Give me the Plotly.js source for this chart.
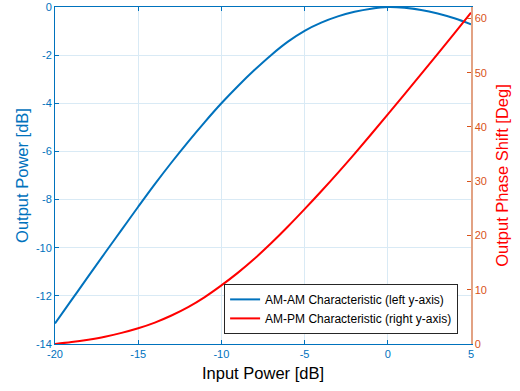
<!DOCTYPE html>
<html>
<head>
<meta charset="utf-8">
<script src="https://cdn.plot.ly/plotly-3.0.1.min.js"></script>
<style>html,body{margin:0;padding:0;background:#fff;}#chart{width:520px;height:391px;}</style>
</head>
<body>
<div id="chart"></div>
<script>
const inputPower = [-20,-19,-18,-17,-16,-15,-14,-13,-12,-11,-10,-9,-8,-7,-6,-5,-4,-3,-2,-1,0,1,2,3,4,5];
const amamOutput = [-13.15,-12.17,-11.19,-10.22,-9.26,-8.30,-7.36,-6.46,-5.60,-4.78,-4.00,-3.28,-2.61,-1.99,-1.44,-0.99,-0.65,-0.39,-0.20,-0.07,0,-0.03,-0.12,-0.27,-0.47,-0.72];
const ampmPhase = [0,0.35,0.8,1.35,2.05,2.9,3.95,5.25,6.8,8.65,10.8,13.15,15.75,18.6,21.65,24.85,28.15,31.55,35.05,38.65,42.3,46.0,49.72,53.47,57.25,61.05];
const leftTicks = [-14,-12,-10,-8,-6,-4,-2,0];
const rightTicks = [0,10,20,30,40,50,60];
const xTicks = [-20,-15,-10,-5,0,5];
const names = ['AM-AM Characteristic (left y-axis)','AM-PM Characteristic (right y-axis)'];

const blue = '#0072BD', orange = '#D95319', grid = 'rgb(217,234,245)';
const font = 'Liberation Sans, Arial, Helvetica, sans-serif';

const traces = [
  {x: inputPower, y: amamOutput, type: 'scatter', mode: 'lines', name: names[0],
   line: {color: blue, width: 2, shape: 'spline', smoothing: 1}, yaxis: 'y'},
  {x: inputPower, y: ampmPhase, type: 'scatter', mode: 'lines', name: names[1],
   line: {color: '#FF0000', width: 2, shape: 'spline', smoothing: 1}, yaxis: 'y2'}
];

const layout = {
  width: 520, height: 391,
  margin: {l: 55, r: 49, t: 7, b: 47},
  paper_bgcolor: '#fff', plot_bgcolor: '#fff',
  font: {family: font, size: 11, color: '#000'},
  showlegend: true,
  legend: {x: 0.969, y: 0.03, xanchor: 'right', yanchor: 'bottom',
           bgcolor: '#fff', bordercolor: '#262626', borderwidth: 1,
           font: {family: font, size: 12, color: '#000'}, tracegroupgap: 0},
  xaxis: {range: [-20, 5], tickvals: xTicks, ticktext: xTicks.map(String),
          ticks: 'inside', ticklen: 4, tickcolor: blue, tickwidth: 1,
          showline: true, linecolor: blue, linewidth: 1, mirror: 'ticks',
          showgrid: true, gridcolor: grid, gridwidth: 1, zeroline: false,
          ticklabeloverflow: 'allow',
          tickfont: {family: font, size: 11, color: blue},
          title: {text: 'Input Power [dB]', font: {family: font, size: 16.5, color: '#000'}, standoff: 8}},
  yaxis: {range: [-14, 0], tickvals: leftTicks, ticktext: leftTicks.map(String),
          ticks: 'inside', ticklen: 4, tickcolor: blue, tickwidth: 1,
          showline: true, linecolor: blue, linewidth: 1,
          showgrid: true, gridcolor: grid, gridwidth: 1, zeroline: false,
          ticklabeloverflow: 'allow',
          tickfont: {family: font, size: 11, color: blue},
          title: {text: 'Output Power [dB]', font: {family: font, size: 16.5, color: blue}, standoff: 3}},
  yaxis2: {range: [0, 62.1], overlaying: 'y', side: 'right', tickvals: rightTicks, ticktext: rightTicks.map(String),
          ticks: 'inside', ticklen: 4, tickcolor: orange, tickwidth: 1,
          showline: true, linecolor: '#E2A283', linewidth: 1.5,
          showgrid: false, zeroline: false,
          ticklabeloverflow: 'allow',
          tickfont: {family: font, size: 11, color: orange},
          title: {text: 'Output Phase Shift [Deg]', font: {family: font, size: 16.5, color: '#FF0000'}, standoff: 10}}
};

Plotly.newPlot('chart', traces, layout, {displayModeBar: false, staticPlot: true});
</script>
</body>
</html>
